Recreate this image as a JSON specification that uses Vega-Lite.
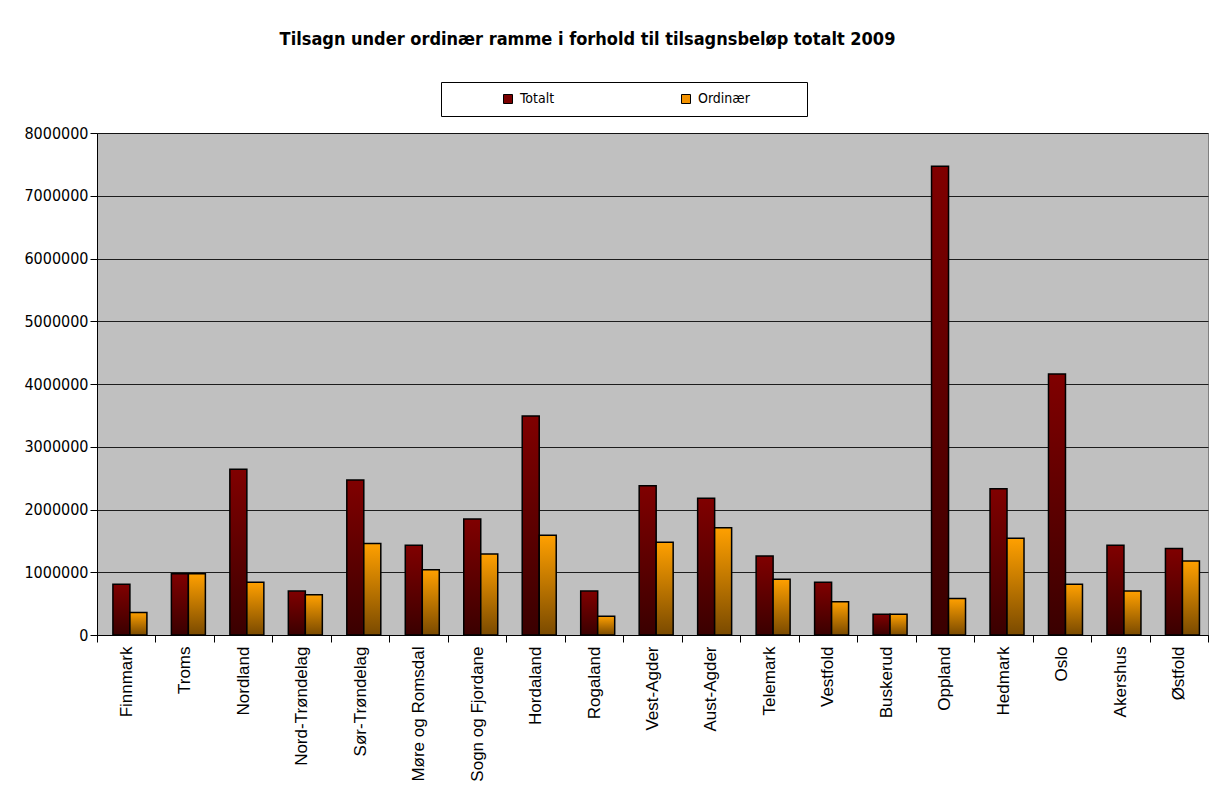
{
  "$schema": "https://vega.github.io/schema/vega-lite/v6.json",
  "width": 1111,
  "height": 502,
  "autosize": {"type": "none"},
  "padding": {"left": 97, "top": 133, "right": 23, "bottom": 163},
  "background": "white",
  "title": {
    "text": "Tilsagn under ordinær ramme i forhold til tilsagnsbeløp totalt 2009",
    "font": "Liberation Sans Narrow, DejaVu Sans Condensed, sans-serif",
    "fontSize": 18,
    "fontWeight": "bold",
    "color": "#000000",
    "anchor": "middle",
    "baseline": "alphabetic",
    "dx": -65,
    "offset": 19
  },
  "config": {
    "view": {"fill": "#C0C0C0", "stroke": "#808080", "strokeWidth": 1}
  },
  "data": {
    "values": [
      {"fylke": "Finnmark", "serie": "Totalt", "belop": 810000},
      {"fylke": "Finnmark", "serie": "Ordinær", "belop": 360000},
      {"fylke": "Troms", "serie": "Totalt", "belop": 975000},
      {"fylke": "Troms", "serie": "Ordinær", "belop": 975000},
      {"fylke": "Nordland", "serie": "Totalt", "belop": 2640000},
      {"fylke": "Nordland", "serie": "Ordinær", "belop": 840000},
      {"fylke": "Nord-Trøndelag", "serie": "Totalt", "belop": 700000},
      {"fylke": "Nord-Trøndelag", "serie": "Ordinær", "belop": 640000},
      {"fylke": "Sør-Trøndelag", "serie": "Totalt", "belop": 2470000},
      {"fylke": "Sør-Trøndelag", "serie": "Ordinær", "belop": 1460000},
      {"fylke": "Møre og Romsdal", "serie": "Totalt", "belop": 1430000},
      {"fylke": "Møre og Romsdal", "serie": "Ordinær", "belop": 1040000},
      {"fylke": "Sogn og Fjordane", "serie": "Totalt", "belop": 1850000},
      {"fylke": "Sogn og Fjordane", "serie": "Ordinær", "belop": 1290000},
      {"fylke": "Hordaland", "serie": "Totalt", "belop": 3490000},
      {"fylke": "Hordaland", "serie": "Ordinær", "belop": 1590000},
      {"fylke": "Rogaland", "serie": "Totalt", "belop": 700000},
      {"fylke": "Rogaland", "serie": "Ordinær", "belop": 300000},
      {"fylke": "Vest-Agder", "serie": "Totalt", "belop": 2380000},
      {"fylke": "Vest-Agder", "serie": "Ordinær", "belop": 1480000},
      {"fylke": "Aust-Agder", "serie": "Totalt", "belop": 2180000},
      {"fylke": "Aust-Agder", "serie": "Ordinær", "belop": 1710000},
      {"fylke": "Telemark", "serie": "Totalt", "belop": 1260000},
      {"fylke": "Telemark", "serie": "Ordinær", "belop": 890000},
      {"fylke": "Vestfold", "serie": "Totalt", "belop": 840000},
      {"fylke": "Vestfold", "serie": "Ordinær", "belop": 530000},
      {"fylke": "Buskerud", "serie": "Totalt", "belop": 330000},
      {"fylke": "Buskerud", "serie": "Ordinær", "belop": 330000},
      {"fylke": "Oppland", "serie": "Totalt", "belop": 7470000},
      {"fylke": "Oppland", "serie": "Ordinær", "belop": 580000},
      {"fylke": "Hedmark", "serie": "Totalt", "belop": 2330000},
      {"fylke": "Hedmark", "serie": "Ordinær", "belop": 1540000},
      {"fylke": "Oslo", "serie": "Totalt", "belop": 4160000},
      {"fylke": "Oslo", "serie": "Ordinær", "belop": 810000},
      {"fylke": "Akershus", "serie": "Totalt", "belop": 1430000},
      {"fylke": "Akershus", "serie": "Ordinær", "belop": 700000},
      {"fylke": "Østfold", "serie": "Totalt", "belop": 1380000},
      {"fylke": "Østfold", "serie": "Ordinær", "belop": 1180000}
    ]
  },
  "encoding": {
    "x": {
      "field": "fylke",
      "type": "nominal",
      "sort": ["Finnmark", "Troms", "Nordland", "Nord-Trøndelag", "Sør-Trøndelag", "Møre og Romsdal", "Sogn og Fjordane", "Hordaland", "Rogaland", "Vest-Agder", "Aust-Agder", "Telemark", "Vestfold", "Buskerud", "Oppland", "Hedmark", "Oslo", "Akershus", "Østfold"],
      "scale": {"paddingInner": 0, "paddingOuter": 0},
      "axis": {
        "title": null,
        "labelAngle": 270,
        "labelAlign": "right",
        "labelBaseline": "middle",
        "labelFont": "Liberation Sans",
        "labelFontSize": 17,
        "labelColor": "#000000",
        "labelPadding": 4,
        "tickBand": "extent",
        "tickSize": 7,
        "tickColor": "#000000",
        "domainColor": "#000000",
        "grid": false,
        "labelLimit": 300
      }
    },
    "xOffset": {
      "field": "serie",
      "type": "nominal",
      "scale": {"domain": ["Totalt", "Ordinær"], "paddingInner": 0, "paddingOuter": 0.72, "align": 0.65}
    },
    "y": {
      "field": "belop",
      "type": "quantitative",
      "scale": {"domain": [0, 8000000], "nice": false},
      "axis": {
        "title": null,
        "values": [0, 1000000, 2000000, 3000000, 4000000, 5000000, 6000000, 7000000, 8000000],
        "format": "d",
        "labelFont": "Liberation Sans Narrow, DejaVu Sans Condensed, sans-serif",
        "labelFontSize": 16,
        "labelColor": "#000000",
        "labelPadding": 2,
        "tickSize": 7,
        "tickColor": "#000000",
        "domainColor": "#000000",
        "grid": true,
        "gridColor": "#000000",
        "gridOpacity": 0.85,
        "gridWidth": 1
      }
    }
  },
  "layer": [
    {
      "transform": [{"filter": "datum.serie === 'Totalt'"}],
      "mark": {
        "type": "bar",
        "stroke": "#000000",
        "strokeWidth": 1.5,
        "color": {
          "gradient": "linear", "x1": 0, "y1": 0, "x2": 0, "y2": 1,
          "stops": [{"offset": 0, "color": "#800000"}, {"offset": 1, "color": "#3a0000"}]
        }
      }
    },
    {
      "transform": [{"filter": "datum.serie === 'Ordinær'"}],
      "mark": {
        "type": "bar",
        "stroke": "#000000",
        "strokeWidth": 1.5,
        "color": {
          "gradient": "linear", "x1": 0, "y1": 0, "x2": 0, "y2": 1,
          "stops": [{"offset": 0, "color": "#ffa000"}, {"offset": 1, "color": "#7a4a00"}]
        }
      }
    },
    {
      "mark": {"type": "bar", "opacity": 0},
      "encoding": {
        "color": {
          "field": "serie",
          "type": "nominal",
          "scale": {"domain": ["Totalt", "Ordinær"], "range": ["#7a0000", "#f39200"]},
          "legend": {
            "orient": "none",
            "legendX": 344,
            "legendY": -51,
            "direction": "horizontal",
            "columns": 2,
            "gridAlign": "all",
            "title": "\u00a0",
            "titleOrient": "left",
            "titlePadding": 50,
            "padding": 10,
            "strokeColor": "#000000",
            "fillColor": "#ffffff",
            "symbolType": "square",
            "symbolSize": 81,
            "symbolStrokeColor": "#000000",
            "symbolStrokeWidth": 1,
            "symbolOpacity": 1,
            "labelFont": "Liberation Sans Narrow, DejaVu Sans Condensed, sans-serif",
            "labelFontSize": 14,
            "labelColor": "#000000",
            "labelOffset": 5,
            "labelExpr": "datum.label + '\u2800\u2800\u2800\u2800\u2800'",
            "columnPadding": 60
          }
        }
      }
    }
  ]
}
